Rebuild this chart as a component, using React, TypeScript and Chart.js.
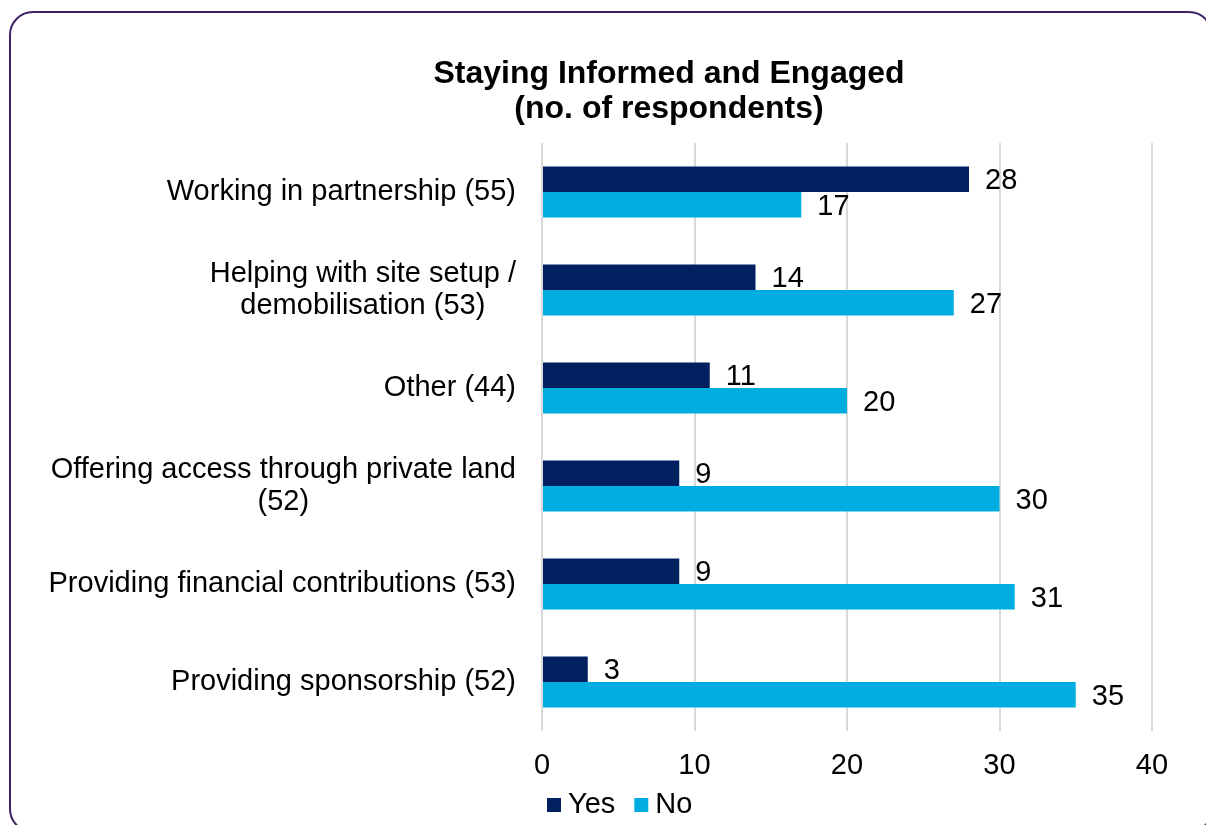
import React, { useEffect, useRef } from "react";
import { Chart, registerables } from "chart.js";

Chart.register(...registerables);

const categories: string[][] = [
  ["Working in partnership (55)"],
  ["Helping with site setup /", "demobilisation (53)"],
  ["Other (44)"],
  ["Offering access through private land", "(52)"],
  ["Providing financial contributions (53)"],
  ["Providing sponsorship (52)"],
];
const yesValues = [28, 14, 11, 9, 9, 3];
const noValues = [17, 27, 20, 30, 31, 35];
const seriesNames = ["Yes", "No"];
const titleLines = ["Staying Informed and Engaged", "(no. of respondents)"];
const xTicks = [0, 10, 20, 30, 40];

const FONT = "'Liberation Sans', Arial, sans-serif";
const YES_COLOR = "#002060";
const NO_COLOR = "#00ADE0";
const FS = 29;

const customDraw = {
  id: "customDraw",
  afterDatasetsDraw(chart: any) {
    const ctx = chart.ctx;
    ctx.save();
    ctx.fillStyle = "#000";
    ctx.font = `${FS}px ${FONT}`;
    ctx.textAlign = "left";
    ctx.textBaseline = "middle";
    chart.data.datasets.forEach((ds: any, di: number) => {
      const meta = chart.getDatasetMeta(di);
      meta.data.forEach((el: any, i: number) => {
        ctx.fillText(String(ds.data[i]), el.x + 16, el.y + 2);
      });
    });
    ctx.restore();
  },
  afterDraw(chart: any) {
    const ctx = chart.ctx;
    const area = chart.chartArea;
    const yScale = chart.scales.y;
    ctx.save();
    ctx.fillStyle = "#000";
    // title
    ctx.font = `bold 32px ${FONT}`;
    ctx.textAlign = "center";
    ctx.textBaseline = "alphabetic";
    titleLines.forEach((t, i) => ctx.fillText(t, 669, 83 + i * 35));
    // category labels: block right aligned, lines centered
    ctx.font = `${FS}px ${FONT}`;
    ctx.textBaseline = "middle";
    ctx.textAlign = "center";
    const lineH = 32;
    categories.forEach((lines, i) => {
      const y = yScale.getPixelForTick(i);
      const maxW = Math.max(...lines.map((l) => ctx.measureText(l).width));
      const cx = area.left - 26 - maxW / 2;
      lines.forEach((l, j) => {
        ctx.fillText(l, cx, y + (j - (lines.length - 1) / 2) * lineH);
      });
    });
    // legend
    let x = 547;
    const ly = 805;
    ctx.textAlign = "left";
    chart.data.datasets.forEach((ds: any) => {
      ctx.fillStyle = ds.backgroundColor;
      ctx.fillRect(x, ly - 7, 14, 14);
      ctx.fillStyle = "#000";
      ctx.fillText(ds.label, x + 21, ly);
      x += 21 + ctx.measureText(ds.label).width + 19;
    });
    ctx.restore();
  },
};

export default function App() {
  const ref = useRef<HTMLCanvasElement>(null);
  useEffect(() => {
    if (!ref.current) return;
    const chart = new Chart(ref.current, {
      type: "bar",
      data: {
        labels: categories.map((c) => c.join(" ")),
        datasets: [
          {
            label: seriesNames[0],
            data: yesValues,
            backgroundColor: YES_COLOR,
            categoryPercentage: 0.52,
            barPercentage: 1,
          },
          {
            label: seriesNames[1],
            data: noValues,
            backgroundColor: NO_COLOR,
            categoryPercentage: 0.52,
            barPercentage: 1,
          },
        ],
      },
      options: {
        indexAxis: "y",
        responsive: false,
        animation: false,
        layout: { padding: { top: 143, right: 54, left: 0, bottom: 0 } },
        plugins: {
          legend: { display: false },
          title: { display: false },
          tooltip: { enabled: false },
        },
        scales: {
          x: {
            min: 0,
            max: 40,
            afterBuildTicks: (scale: any) => {
              scale.ticks = xTicks.map((v) => ({ value: v }));
            },
            afterFit: (scale: any) => {
              scale.height = 94;
            },
            grid: { color: "#d9d9d9", lineWidth: 2, drawTicks: false },
            border: { display: false },
            ticks: {
              padding: 18,
              color: "#000",
              font: { family: FONT, size: FS },
            },
          },
          y: {
            afterFit: (scale: any) => {
              scale.width = 542;
            },
            grid: { display: false, drawTicks: false },
            border: { display: false },
            ticks: { display: false },
          },
        },
      },
      plugins: [customDraw],
    });
    return () => chart.destroy();
  }, []);

  return (
    <div
      style={{
        position: "fixed",
        left: 0,
        top: 0,
        width: 1206,
        height: 825,
        overflow: "hidden",
        background: "#fff",
      }}
    >
      <div
        style={{
          position: "absolute",
          left: 9,
          top: 11,
          width: 1204,
          height: 822,
          boxSizing: "border-box",
          border: "2px solid #3D2363",
          borderRadius: 24,
        }}
      />
      <canvas
        ref={ref}
        width={1206}
        height={825}
        style={{ position: "absolute", left: 0, top: 0, width: 1206, height: 825 }}
      />
    </div>
  );
}
